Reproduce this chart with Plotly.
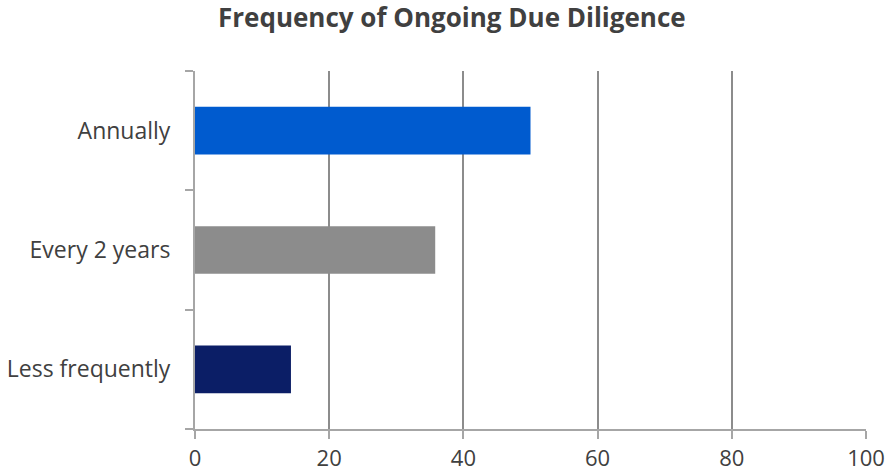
import plotly.graph_objects as go

categories = ["Annually", "Every 2 years", "Less frequently"]
values = [50, 35.8, 14.3]
colors = ["#005BCF", "#8C8C8C", "#0B1E66"]
x_ticks = [0, 20, 40, 60, 80, 100]

fig = go.Figure(go.Bar(
    y=categories, x=values, orientation="h",
    marker=dict(color=colors, line=dict(width=0)),
    width=0.4,
))

fig.update_layout(
    width=893, height=476,
    margin=dict(l=195, r=27, t=71, b=47),
    paper_bgcolor="white", plot_bgcolor="white",
    showlegend=False,
    title=dict(text="<b>Frequency of Ongoing Due Diligence</b>", x=0.506, xanchor="center",
               y=0.962, yanchor="middle",
               font=dict(family="Open Sans", size=26, color="#404040")),
    font=dict(family="Open Sans", size=23, color="#404040"),
)
fig.update_xaxes(
    range=[0, 100], tickvals=x_ticks, showgrid=True, gridcolor="#8C8C8C", gridwidth=2,
    zeroline=False, showline=True, linecolor="#A6A6A6", linewidth=2,
    ticks="outside", ticklen=8, tickcolor="#A6A6A6", tickwidth=2,
    tickfont=dict(size=22, color="#404040"), ticklabelstandoff=1, automargin=False,
)
fig.update_yaxes(
    categoryorder="array", categoryarray=categories[::-1],
    showgrid=False, zeroline=False, showline=True, linecolor="#A6A6A6", linewidth=2,
    ticks="outside", tickson="boundaries", ticklen=8, tickcolor="#A6A6A6", tickwidth=2,
    tickfont=dict(size=23, color="#404040"), ticklabelstandoff=18, automargin=False,
)

fig.write_html("out.html")
